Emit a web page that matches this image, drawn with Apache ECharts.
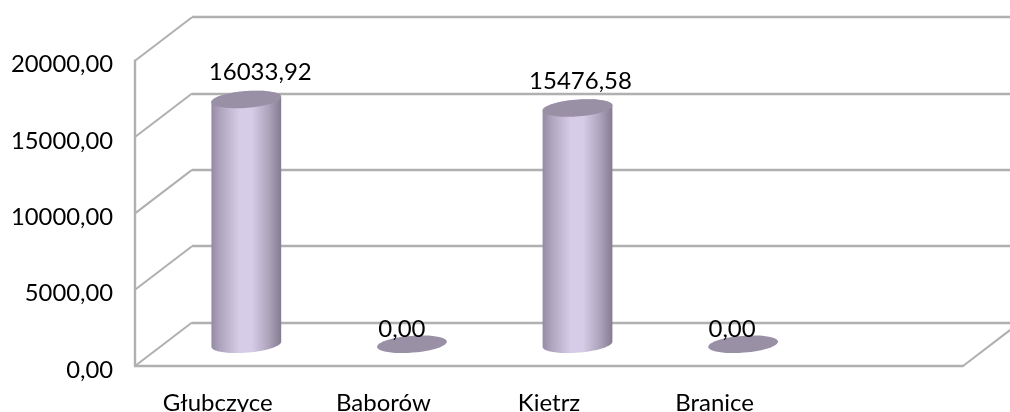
<!DOCTYPE html>
<html>
<head>
<meta charset="utf-8">
<style>html,body{margin:0;padding:0;background:#fff}#c{width:1010px;height:412px}</style>
<script src="https://cdn.jsdelivr.net/npm/echarts@6/dist/echarts.min.js"></script>
</head>
<body>
<div id="c"></div>
<script>
const categories = ['Głubczyce', 'Baborów', 'Kietrz', 'Branice', ''];
const values = [16033.92, 0, 15476.58, 0, null];
const yTicks = [0, 5000, 10000, 15000, 20000];

const DEPTH_X = 57, DEPTH_Y = 43.5;
const RX = 35, RY = 8.4, TILT = -4.5 * Math.PI / 180;
const LINE = '#b0b0b0', LINE_W = 2.4, FONT = 'Lato, "Open Sans", sans-serif';
const fmt = v => v.toFixed(2).replace('.', ',');
const nudge = { 0: [14, -27], 1: [-10, -15], 2: [3, -27], 3: [-11, -15] };

function ellipsePts(cx, cy, from, to) {
  const pts = [];
  for (let i = 0; i <= 48; i++) {
    const t = from + (to - from) * i / 48;
    pts.push([
      cx + RX * Math.cos(t) * Math.cos(TILT) - RY * Math.sin(t) * Math.sin(TILT),
      cy + RX * Math.cos(t) * Math.sin(TILT) + RY * Math.sin(t) * Math.cos(TILT)
    ]);
  }
  return pts;
}

function renderCylinder(params, api) {
  const i = api.value(0), v = api.value(1);
  if (isNaN(v)) return;
  const top = api.coord([i, v]), base = api.coord([i, 0]);
  const cx = top[0] + DEPTH_X / 2, ty = top[1] - DEPTH_Y / 2, by = base[1] - DEPTH_Y / 2;
  const children = [];
  if (v > 0) {
    children.push({
      type: 'polygon',
      shape: { points: ellipsePts(cx, by, 0, Math.PI).concat(ellipsePts(cx, ty, Math.PI, 2 * Math.PI)) },
      style: {
        fill: new echarts.graphic.LinearGradient(0, 0, 1, 0, [
          { offset: 0, color: '#958ba3' },
          { offset: 0.12, color: '#ada3bc' },
          { offset: 0.4, color: '#d6cce8' },
          { offset: 0.58, color: '#d6cce8' },
          { offset: 0.82, color: '#ada3bb' },
          { offset: 1, color: '#857b92' }
        ])
      }
    });
  }
  children.push({
    type: 'polygon',
    shape: { points: ellipsePts(cx, ty, 0, 2 * Math.PI) },
    style: { fill: '#9a90a6' }
  });
  const n = nudge[i];
  children.push({
    type: 'text',
    z2: 10,
    style: {
      x: cx + n[0], y: ty + n[1], text: fmt(v),
      fill: '#000', font: '24px ' + FONT, align: 'center', verticalAlign: 'middle'
    }
  });
  return { type: 'group', children };
}

function renderDiagonal(params, api) {
  const v = api.value(0);
  const y = api.coord([0, v])[1], cs = params.coordSys;
  const line = x => ({
    type: 'line',
    shape: { x1: x, y1: y, x2: x + DEPTH_X, y2: y - DEPTH_Y },
    style: { stroke: LINE, lineWidth: LINE_W - 0.4 }
  });
  const children = [line(cs.x)];
  if (v === 0) children.push(line(cs.x + cs.width));
  return { type: 'group', children };
}

const chart = echarts.init(document.getElementById('c'), null, { renderer: 'canvas' });
chart.setOption({
  animation: false,
  backgroundColor: '#fff',
  grid: [
    { left: 135, right: 47, top: 60.7, bottom: 46, outerBoundsMode: 'none' },
    { left: 192, right: -10, top: 17.2, bottom: 89.5, outerBoundsMode: 'none' }
  ],
  xAxis: [
    {
      gridIndex: 0, type: 'category', data: categories,
      axisLine: { show: true, lineStyle: { color: LINE, width: LINE_W } },
      axisTick: { show: false },
      axisLabel: { color: '#000', fontFamily: FONT, fontSize: 24, margin: 25, interval: 0 }
    },
    { gridIndex: 1, type: 'category', data: categories, show: false }
  ],
  yAxis: [
    {
      gridIndex: 0, type: 'value', min: yTicks[0], max: yTicks[yTicks.length - 1], interval: yTicks[1],
      axisLine: { show: true, lineStyle: { color: LINE, width: LINE_W } },
      axisTick: { show: false },
      splitLine: { show: false },
      axisLabel: { color: '#000', fontFamily: FONT, fontSize: 23.8, margin: 22, verticalAlign: 'top', lineHeight: 8, formatter: fmt }
    },
    {
      gridIndex: 1, type: 'value', min: yTicks[0], max: yTicks[yTicks.length - 1], interval: yTicks[1],
      axisLine: { show: false }, axisTick: { show: false }, axisLabel: { show: false },
      splitLine: { show: true, lineStyle: { color: LINE, width: LINE_W } }
    }
  ],
  series: [
    {
      type: 'custom', xAxisIndex: 0, yAxisIndex: 0, z: 1, silent: true,
      data: yTicks.map(v => [v]), encode: { y: 0 },
      renderItem: renderDiagonal
    },
    {
      type: 'custom', xAxisIndex: 0, yAxisIndex: 0, z: 3, silent: true,
      data: values.map((v, i) => [i, v]), encode: { x: 0, y: 1 },
      renderItem: renderCylinder
    }
  ]
});
</script>
</body>
</html>
